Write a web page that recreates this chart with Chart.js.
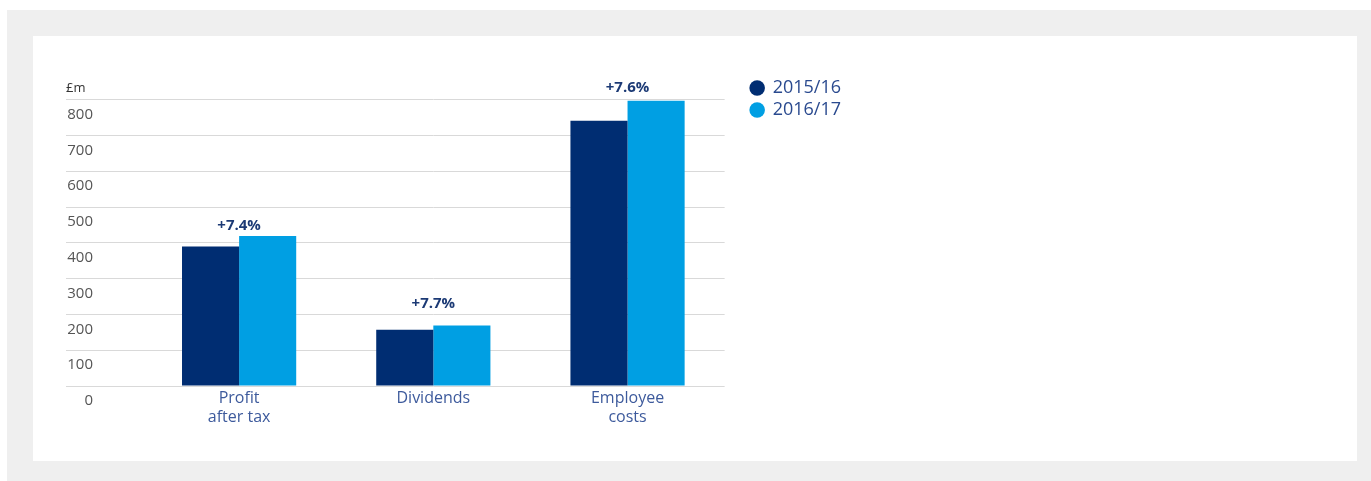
<!DOCTYPE html>
<html>
<head>
<meta charset="utf-8">
<script src="https://cdn.jsdelivr.net/npm/chart.js@4.4.1/dist/chart.umd.min.js"></script>
<style>
  html, body { margin: 0; padding: 0; background: #fff; }
  #panel { position: absolute; left: 7px; top: 10px; width: 1364px; height: 471px; background: #efefef; }
  #card { position: absolute; left: 26px; top: 26px; width: 1324px; height: 425px; background: #fff; }
</style>
</head>
<body>
<div id="panel"><div id="card"><canvas id="chart" width="1324" height="425"></canvas></div></div>
<script>
const categories = [['Profit', 'after tax'], 'Dividends', ['Employee', 'costs']]
const seriesNames = ['2015/16', '2016/17']
const values2015 = [390, 157, 741]
const values2016 = [419, 169, 797]
const changes = ['+7.4%', '+7.7%', '+7.6%']
const yMin = 0
const yMax = 800
const yStep = 100

const FONT = '"Open Sans", "DejaVu Sans", sans-serif'

// % change text above each pair of bars
const changeLabels = {
    id: 'changeLabels',
    afterDatasetsDraw(chart, args, opts) {
        const ctx = chart.ctx
        const x = chart.scales.x
        const y = chart.scales.y
        ctx.save()
        ctx.font = 'bold 15px ' + FONT
        ctx.fillStyle = '#1c3a75'
        ctx.textAlign = 'center'
        ctx.textBaseline = 'middle'
        changes.forEach((txt, i) => {
            const top = y.getPixelForValue(Math.max(values2015[i], values2016[i]))
            ctx.fillText(txt, x.getPixelForValue(i), top - opts.lift[i])
        })
        ctx.restore()
    }
}

// legend sits a little away from the plot
const legendGap = {
    id: 'legendGap',
    afterLayout(chart, args, opts) {
        chart.legend.left += opts.gap
        chart.legend.right += opts.gap
    }
}

new Chart(document.getElementById('chart'), {
    type: 'bar',
    data: {
        labels: categories,
        datasets: [
            { label: seriesNames[0], data: values2015, backgroundColor: '#002d72' },
            { label: seriesNames[1], data: values2016, backgroundColor: '#009fe3' }
        ]
    },
    options: {
        responsive: false,
        animation: false,
        barPercentage: 1,
        categoryPercentage: 0.588,
        layout: { padding: { left: 33, top: 39, right: 528, bottom: 34 } },
        plugins: {
            title: {
                display: true,
                text: '£m',
                align: 'start',
                color: '#333',
                font: { family: FONT, size: 13, weight: 'normal', lineHeight: 1.2 },
                padding: { top: 5, bottom: 4 }
            },
            legend: {
                position: 'right',
                align: 'start',
                labels: {
                    usePointStyle: true,
                    pointStyle: 'circle',
                    boxWidth: 13,
                    boxHeight: 11,
                    padding: 4,
                    color: '#2a4a8f',
                    font: { family: FONT, size: 18 }
                }
            },
            tooltip: { enabled: false },
            changeLabels: { lift: [10, 22, 13] },
            legendGap: { gap: 22 }
        },
        scales: {
            x: {
                grid: { display: false, drawTicks: false },
                border: { display: false },
                ticks: {
                    padding: 3,
                    color: '#3d5a9c',
                    font: { family: FONT, size: 16, lineHeight: 1.19 }
                },
                afterFit: (scale) => { scale.height = 41 }
            },
            y: {
                min: yMin,
                max: yMax,
                border: { display: false },
                grid: { color: '#d9d9d9', tickColor: '#d9d9d9', tickLength: 76, lineWidth: 1 },
                ticks: {
                    stepSize: yStep,
                    padding: -27,
                    labelOffset: 15,
                    color: '#555',
                    font: { family: FONT, size: 15 }
                },
                afterFit: (scale) => { scale.width = 76 }
            }
        }
    },
    plugins: [changeLabels, legendGap]
})
</script>
</body>
</html>
